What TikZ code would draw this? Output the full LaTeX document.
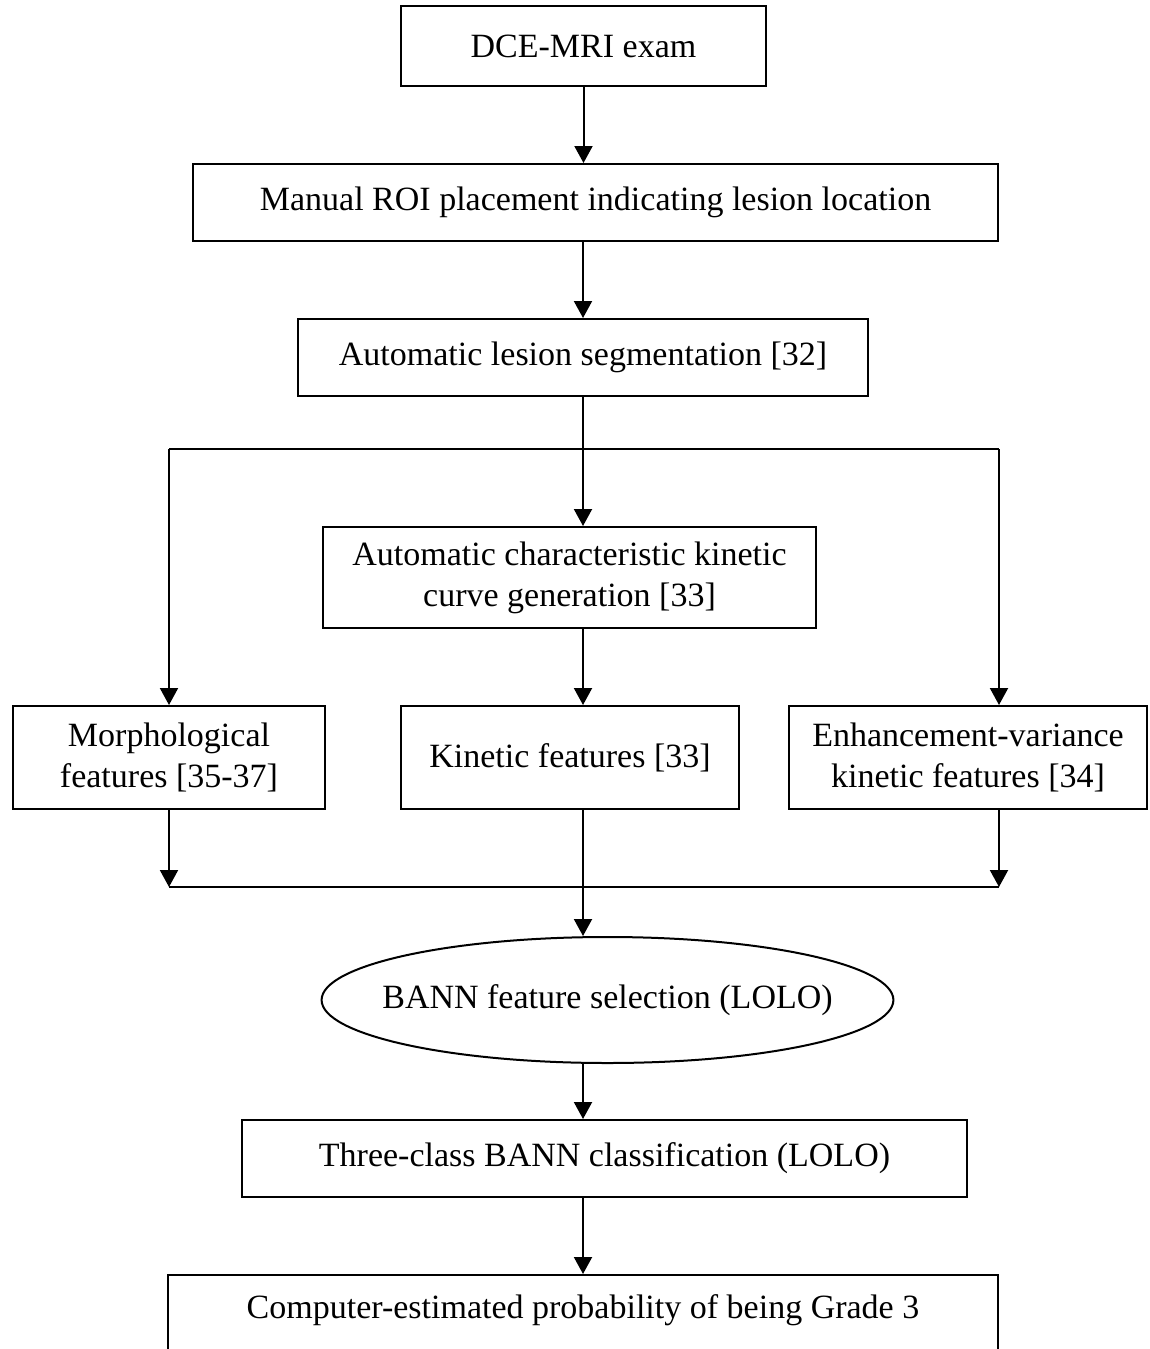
\documentclass[tikz,border=0pt]{standalone}
\usepackage{fontspec}
\setmainfont{Liberation Serif}
\usetikzlibrary{shapes.geometric,arrows.meta}
\begin{document}
\begin{tikzpicture}[x=1pt,y=-1pt,
  stepbox/.style={draw, line width=2pt, inner sep=0pt, align=center,
    font=\fontsize{34}{41}\selectfont},
  flow/.style={-{Triangle[length=17pt,width=18pt]}, line width=2pt}]

\def \splity {449}
\def \joiny {887}

\clip (0,0) rectangle (1149,1349);

% boxes
\node [stepbox, minimum width=365pt, minimum height=80pt] (dce) at (583.5,46) {DCE-MRI exam};
\node [stepbox, minimum width=805pt, minimum height=77pt] (roi) at (595.5,202.5) {Manual ROI placement indicating lesion location};
\node [stepbox, minimum width=570pt, minimum height=77pt] (seg) at (583,357.5) {Automatic lesion segmentation [32]};
\node [stepbox, minimum width=493pt, minimum height=101pt] (curve) at (569.5,577.5) {Automatic characteristic kinetic\\curve generation [33]};
\node [stepbox, minimum width=312pt, minimum height=103pt] (morph) at (169,757.5) {Morphological\\features [35-37]};
\node [stepbox, minimum width=338pt, minimum height=103pt] (kin) at (570,757.5) {Kinetic features [33]};
\node [stepbox, minimum width=358pt, minimum height=103pt] (enh) at (968,757.5) {Enhancement-variance\\kinetic features [34]};
\node [stepbox, ellipse, inner xsep=-23pt, minimum width=571pt, minimum height=126pt] (bann) at (607.5,1000) {BANN feature selection (LOLO)};
\node [stepbox, minimum width=725pt, minimum height=77pt] (three) at (604.5,1158.5) {Three-class BANN classification (LOLO)};
\node [stepbox, anchor=north, minimum width=830pt, inner ysep=19.5pt, text depth=110pt] (result) at (583,1274) {Computer-estimated probability of being Grade 3};

% split and join points
\coordinate (split) at (seg.south |- 0,\splity);
\coordinate (splitL) at (morph.north |- split);
\coordinate (splitR) at (roi.east |- split);
\coordinate (joinL) at (morph.south |- 0,\joiny);
\coordinate (joinR) at (splitR |- joinL);

% connectors
\draw [flow] (dce.south) -- (dce.south |- roi.north);
\draw [flow] (seg.north |- roi.south) -- (seg.north);
\draw [flow] (seg.south) -- (seg.south |- curve.north);
\draw [line width=2pt] (splitL) -- (splitR);
\draw [flow] (splitL) -- (morph.north);
\draw [flow] (splitR) -- (splitR |- enh.north);
\draw [flow] (seg.south |- curve.south) -- (seg.south |- kin.north);

\draw [flow] (morph.south) -- (joinL);
\draw [flow] (splitR |- enh.south) -- (joinR);
\draw [line width=2pt] (joinL) -- (joinR);
\draw [flow] (seg.south |- kin.south) -- (seg.south |- bann.north);
\draw [flow] (seg.south |- bann.south) -- (seg.south |- three.north);
\draw [flow] (seg.south |- three.south) -- (seg.south |- result.north);
\end{tikzpicture}
\end{document}
